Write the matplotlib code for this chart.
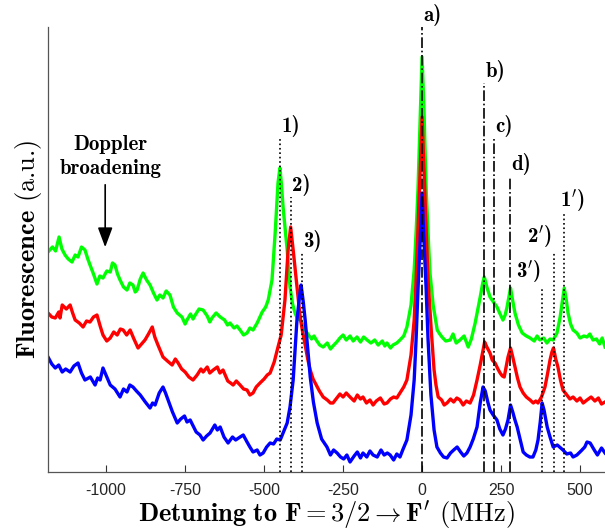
import numpy as np
import matplotlib
matplotlib.use('Agg')
import matplotlib.pyplot as plt

plt.rcParams['mathtext.fontset'] = 'cm'
plt.rcParams['font.family'] = ['Liberation Sans', 'DejaVu Sans']

# detuning (MHz) and fluorescence (a.u.)
green_x = [-1184, -1170, -1160, -1149, -1140, -1130, -1120, -1108, -1098, -1089, -1078, -1067, -1058,
           -1051, -1040, -1029, -1020, -1010, -998, -987, -980, -972, -964, -956, -945, -934, -925,
           -915, -908, -902, -892, -883, -872, -861, -850, -839, -830, -820, -810, -798, -787, -775,
           -760, -750, -744, -733, -725, -718, -706, -693, -680, -672, -665, -652, -639, -625, -616,
           -608, -595, -586, -576, -565, -554, -545, -535, -522, -506, -495, -487, -475, -465, -456,
           -450, -445, -440, -427, -418, -410, -402, -394, -386, -375, -364, -350, -342, -335, -324,
           -313, -300, -290, -282, -270, -260, -250, -240, -228, -218, -206, -195, -185, -174, -162,
           -150, -139, -126, -118, -111, -100, -92, -80, -70, -58, -48, -35, -25, -19, -13, -6, 0,
           6, 13, 19, 25, 35, 48, 56, 63, 75, 89, 98, 108, 120, 133, 146, 156, 168, 184, 192, 197,
           205, 215, 226, 237, 247, 256, 263, 269, 280, 287, 294, 305, 317, 330, 342, 355, 364, 373,
           385, 395, 405, 415, 427, 437, 444, 450, 456, 462, 470, 478, 490, 500, 512, 522, 531, 541,
           552, 562, 570, 579]
green_y = [225, 230, 226, 240, 228, 222, 218, 215, 222, 220, 230, 227, 218,
           212, 203, 193, 201, 199, 206, 205, 214, 212, 203, 197, 190, 187, 194,
           192, 185, 187, 198, 204, 197, 192, 184, 177, 182, 179, 186, 182, 170, 164,
           160, 153, 157, 163, 158, 162, 168, 167, 161, 155, 159, 164, 160, 157, 152,
           154, 149, 151, 147, 142, 144, 149, 147, 154, 165, 170, 177, 197, 244, 294,
           309, 292, 270, 227, 190, 173, 164, 158, 157, 151, 144, 138, 141, 137, 132,
           130, 134, 128, 131, 135, 139, 142, 137, 141, 136, 140, 135, 140, 137, 134,
           137, 132, 136, 131, 134, 129, 132, 134, 137, 141, 150, 172, 207, 244, 287, 357, 420,
           367, 287, 244, 204, 172, 147, 143, 140, 136, 137, 143, 134, 137, 141, 130, 138, 154, 180, 194, 200,
           190, 180, 175, 170, 163, 157, 162, 170, 189, 176, 164, 152, 144, 141, 139, 136, 141, 137,
           139, 134, 138, 137, 144, 160, 176, 189, 178, 164, 153, 147, 144, 139, 141, 140, 143, 137,
           138, 133, 139, 130]

red_x = [-1184, -1172, -1161, -1150, -1146, -1139, -1126, -1114, -1106, -1098, -1085, -1073, -1062,
         -1051, -1040, -1029, -1018, -1010, -998, -987, -976, -965, -955, -946, -935, -924, -912,
         -899, -888, -877, -866, -854, -846, -836, -828, -820, -806, -791, -781, -772, -761, -750,
         -738, -725, -712, -700, -693, -680, -672, -661, -648, -640, -630, -615, -606, -598, -588,
         -576, -565, -554, -545, -535, -525, -513, -500, -490, -481, -468, -456, -446, -434, -424,
         -416, -408, -396, -386, -378, -370, -362, -354, -345, -335, -325, -313, -300, -290, -282,
         -270, -260, -250, -240, -228, -215, -205, -195, -187, -176, -165, -155, -145, -132, -120,
         -111, -100, -90, -80, -70, -58, -48, -35, -25, -19, -13, -6, 0, 6, 13, 19, 29, 38, 44,
         51, 62, 70, 79, 90, 100, 110, 120, 130, 140, 152, 163, 174, 184, 193, 198, 205, 215, 222,
         231, 240, 247, 254, 260, 266, 272, 280, 287, 294, 302, 310, 320, 330, 342, 352, 360, 367,
         378, 389, 397, 405, 411, 416, 423, 430, 438, 446, 458, 468, 478, 490, 500, 510, 522, 535,
         547, 558, 568, 579]
red_y = [164, 160, 159, 165, 159, 172, 168, 172, 164, 157, 154, 150, 156,
         155, 160, 162, 150, 142, 136, 139, 145, 142, 148, 147, 142, 147, 138,
         129, 133, 137, 143, 150, 140, 132, 126, 120, 116, 112, 118, 114, 108, 105,
         100, 97, 102, 108, 105, 110, 104, 107, 110, 104, 107, 96, 94, 92, 96,
         92, 88, 87, 82, 84, 90, 94, 98, 102, 104, 115, 130, 142, 177, 227,
         250, 227, 190, 160, 145, 132, 118, 107, 98, 92, 86, 80, 77, 74, 74,
         79, 83, 80, 84, 80, 76, 82, 78, 80, 74, 77, 72, 76, 79, 73,
         74, 78, 80, 79, 84, 90, 97, 122, 157, 197, 247, 307, 360, 307, 247, 197, 147, 107, 92,
         80, 77, 72, 74, 78, 75, 79, 77, 72, 76, 74, 82, 97, 112, 127, 135, 130, 124, 117,
         114, 108, 104, 101, 100, 110, 120, 129, 120, 110, 99, 90, 84, 80, 77, 74, 76, 74,
         80, 90, 103, 117, 125, 129, 118, 110, 97, 87, 82, 78, 80, 76, 79, 74, 77, 80,
         76, 79, 73, 75]

blue_x = [-1184, -1172, -1161, -1150, -1139, -1128, -1114, -1102, -1089, -1078, -1067, -1050, -1035,
          -1027, -1019, -1010, -998, -987, -972, -956, -945, -934, -925, -915, -904, -892, -876,
          -861, -853, -845, -832, -820, -812, -804, -790, -775, -764, -752, -744, -734, -715, -703,
          -693, -682, -671, -656, -648, -639, -627, -614, -600, -590, -576, -566, -554, -545, -535,
          -522, -513, -503, -492, -481, -470, -460, -449, -440, -427, -418, -408, -396, -388, -383,
          -376, -370, -362, -354, -344, -332, -318, -301, -290, -280, -269, -258, -248, -238, -228,
          -215, -205, -195, -187, -175, -165, -155, -142, -130, -120, -110, -101, -90, -80, -70,
          -60, -48, -35, -25, -19, -13, -6, 0, 6, 13, 19, 28, 38, 47, 58, 68, 79, 90, 100, 111,
          122, 132, 142, 152, 162, 174, 184, 193, 200, 208, 215, 225, 237, 246, 256, 264, 272, 280,
          287, 294, 301, 310, 320, 330, 341, 351, 360, 367, 374, 380, 386, 396, 405, 415, 428, 446,
          458, 470, 478, 490, 503, 515, 522, 532, 545, 555, 568, 579]
blue_y = [120, 113, 109, 112, 105, 108, 105, 111, 114, 104, 97, 100, 92,
          99, 97, 109, 100, 92, 88, 80, 88, 85, 92, 90, 86, 82, 75,
          69, 74, 72, 84, 90, 84, 77, 65, 54, 58, 61, 55, 57, 45, 42,
          37, 41, 44, 52, 47, 50, 40, 34, 40, 37, 40, 42, 35, 30, 25,
          27, 22, 24, 30, 34, 33, 38, 37, 44, 54, 70, 97, 157, 180, 192,
          175, 157, 128, 100, 75, 54, 38, 30, 22, 27, 24, 20, 18, 22, 15,
          21, 25, 19, 24, 20, 26, 22, 20, 27, 22, 24, 22, 17, 23, 20,
          28, 37, 62, 97, 137, 187, 237, 284, 237, 187, 137, 82, 47, 30, 24, 20, 19, 24, 27, 30,
          25, 21, 24, 30, 38, 50, 74, 90, 86, 75, 67, 62, 57, 48, 42, 48, 57, 72,
          65, 57, 50, 38, 25, 22, 20, 20, 27, 37, 55, 74, 67, 50, 40, 30, 32, 27,
          23, 24, 20, 22, 26, 30, 35, 34, 27, 22, 29, 24]

# transitions marked in the figure
line_x = [-450, -416, -380, 0, 196, 228, 278, 380, 416, 450]
line_top = [339, 280, 224, 450, 394, 339, 301, 189, 224, 264]
line_style = [':', ':', ':', '-.', '-.', '-.', '-.', ':', ':', ':']
line_label = ['1)', '2)', '3)', 'a)', 'b)', 'c)', 'd)', "3'", "2'", "1'"]

xticks = [-1000, -750, -500, -250, 0, 250, 500]

fig = plt.figure(figsize=(6.05, 5.30), dpi=100)
ax = fig.add_axes([48 / 605, 58 / 530, 1 - 48 / 605, 445 / 530])

ax.plot(green_x, green_y, color=(0, 1, 0), lw=2.4)
ax.plot(red_x, red_y, color=(1, 0, 0), lw=2.4)
ax.plot(blue_x, blue_y, color=(0, 0, 1), lw=2.4)

bold = dict(family='cmb10', fontsize=15)
for x, top, ls, lab in zip(line_x, line_top, line_style, line_label):
    ax.plot([x, x], [5, top], color='k', ls=ls, lw=1.2, zorder=5)
    if lab.endswith("'"):
        txt = r'%s$^{\prime}$)' % lab[0]
        if lab == "1'":
            ax.annotate(txt, (x, top), xytext=(-3, 0), textcoords='offset points',
                        ha='left', va='bottom', **bold)
        else:
            ax.annotate(txt, (x, top), xytext=(-1, 3), textcoords='offset points',
                        ha='right', va='bottom', **bold)
    else:
        ax.annotate(lab, (x, top), xytext=(1, 1), textcoords='offset points',
                    ha='left', va='bottom', **bold)

ax.text(-987, 332, 'Doppler', ha='center', va='center', **bold)
ax.text(-987, 309, 'broadening', ha='center', va='center', **bold)
ax.annotate('', xy=(-1003, 227), xytext=(-1003, 295),
            arrowprops=dict(arrowstyle='-|>,head_length=0.8,head_width=0.3', color='k',
                            lw=1.2, mutation_scale=15))

ax.set_xlim(-1184, 579)
ax.set_ylim(5, 450)
ax.set_xticks(xticks)
ax.set_xticklabels([str(t) for t in xticks])
ax.set_yticks([])
ax.tick_params(axis='x', direction='in', length=5, width=0.8, color='#333333',
               labelsize=11.5, labelcolor='#262626', pad=8)
for s in ['top', 'right']:
    ax.spines[s].set_visible(False)
for s in ['left', 'bottom']:
    ax.spines[s].set_color('#555555')
    ax.spines[s].set_linewidth(0.9)

ax.set_xlabel(r'$\mathbf{Detuning\ to\ F=3/2\rightarrow F^{\prime}}$ (MHz)',
              family='cmr10', fontsize=19, labelpad=0)
ax.set_ylabel(r'$\mathbf{Fluorescence}$ (a.u.)', family='cmr10', fontsize=19, labelpad=3)

fig.savefig('out.png', dpi=100)
